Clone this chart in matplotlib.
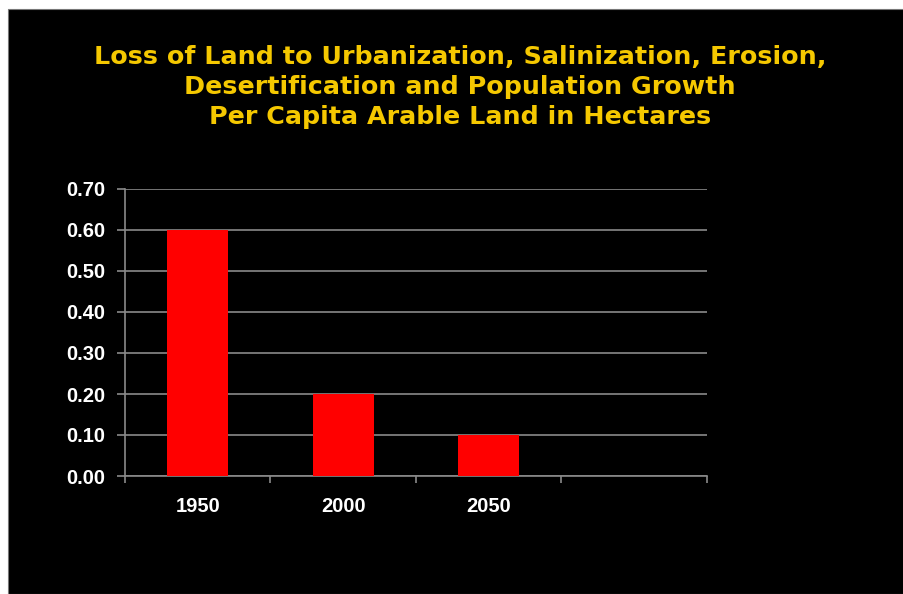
import matplotlib
matplotlib.use("Agg")
import matplotlib.pyplot as plt
from matplotlib.patches import Rectangle

categories = ["1950", "2000", "2050", ""]
values = [0.60, 0.20, 0.10]
yticks = [0.0, 0.1, 0.2, 0.3, 0.4, 0.5, 0.6, 0.7]
title_lines = ["Loss of Land to Urbanization, Salinization, Erosion,",
               "Desertification and Population Growth",
               "Per Capita Arable Land in Hectares"]

plt.rcParams['font.family'] = ['Liberation Sans', 'DejaVu Sans']

W, H = 904, 594
fig = plt.figure(figsize=(W / 100, H / 100), dpi=100, facecolor="white")
fig.patches.append(Rectangle((8 / W, 0), 1, (H - 9) / H, transform=fig.transFigure,
                             facecolor="black", edgecolor="#777777", linewidth=0.8, zorder=-10))

ax = fig.add_axes([125 / W, 1 - 476 / H, (707 - 125) / W, (476 - 189) / H])
ax.set_facecolor("black")
ax.patch.set_alpha(0)

x = list(range(len(categories)))
ax.bar(x[:len(values)], values, width=0.42, color="#FF0000", zorder=3)

ax.set_xlim(-0.5, len(categories) - 0.5)
ax.set_ylim(0, 0.7)
ax.set_yticks(yticks)
ax.set_yticklabels([f"{v:.2f}" for v in yticks])
ax.set_xticks(x)
ax.set_xticklabels(categories)
ax.set_xticks([i - 0.5 for i in range(len(categories) + 1)], minor=True)

grid_c = "#8a8a8a"
ax.yaxis.grid(True, color=grid_c, linewidth=1.2, zorder=1)
ax.set_axisbelow(True)
for s in ["top", "right"]:
    ax.spines[s].set_visible(False)
for s in ["left", "bottom"]:
    ax.spines[s].set_color(grid_c)
    ax.spines[s].set_linewidth(1.2)

ax.tick_params(axis="y", which="major", colors=grid_c, length=6, width=1.2, pad=8,
               labelcolor="white", labelsize=14.5)
ax.tick_params(axis="x", which="major", length=0, pad=15, labelcolor="white", labelsize=14.5)
ax.tick_params(axis="x", which="minor", colors=grid_c, length=5, width=1.2)
for lbl in ax.get_yticklabels() + ax.get_xticklabels():
    lbl.set_fontweight("bold")

fig.text(460 / W, 1 - 87 / H, "\n".join(title_lines), ha="center", va="center",
         color="#F5C800", fontsize=18.3, fontweight="bold", linespacing=1.3,
         family=["DejaVu Sans"])

fig.savefig("out.png", dpi=100, facecolor=fig.get_facecolor())
